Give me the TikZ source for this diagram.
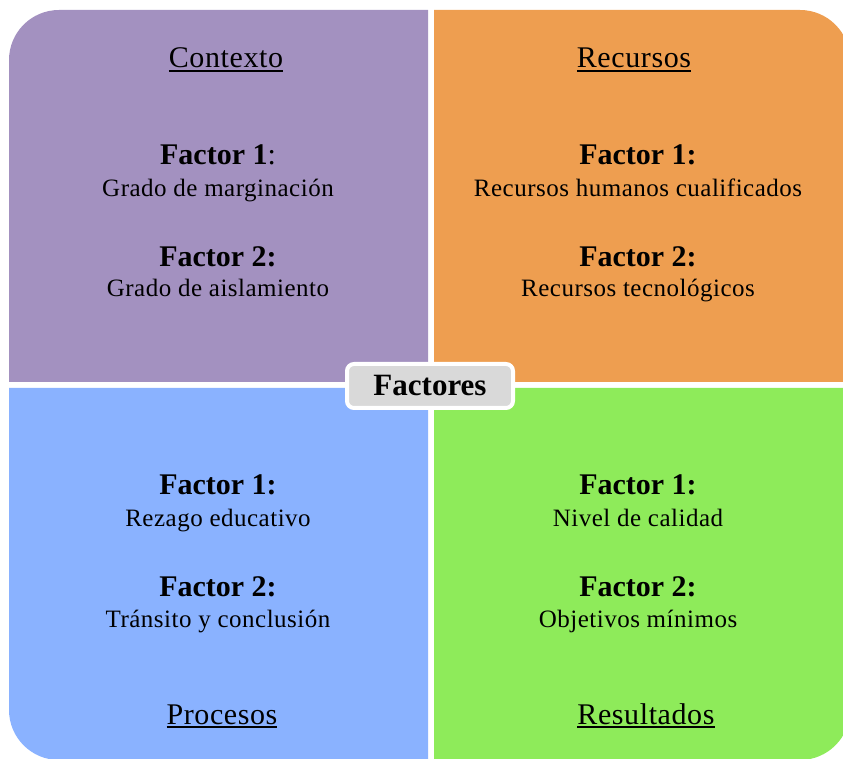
\documentclass[tikz,border=0pt]{standalone}
\usepackage{fontspec}
\setmainfont{Liberation Serif}
\newsavebox\mytitlebox
\newcommand\myul[1]{\sbox\mytitlebox{#1}\rlap{\rule[-4pt]{\wd\mytitlebox}{2pt}}\usebox\mytitlebox}
\definecolor{cpurple}{RGB}{163,145,192}
\definecolor{corange}{RGB}{238,158,80}
\definecolor{cblue}{RGB}{138,178,255}
\definecolor{cgreen}{RGB}{142,235,90}
\definecolor{boxgray}{RGB}{217,217,217}
\tikzset{
  title/.style={anchor=base, inner sep=0pt, font=\fontsize{30}{36}\selectfont\addfontfeature{LetterSpace=2}},
  fhead/.style={anchor=base, inner sep=0pt, font=\fontsize{30}{36}\selectfont},
  fdesc/.style={anchor=base, inner sep=0pt, font=\fontsize{25}{30}\selectfont\addfontfeature{LetterSpace=2}},
  centerbox/.style={draw=white, line width=4pt, fill=boxgray, rounded corners=7pt,
    minimum width=166pt, minimum height=44pt, inner sep=0pt, font=\fontsize{31}{36}\selectfont\bfseries}
}
\begin{document}
\begin{tikzpicture}[x=1pt,y=1pt]
\useasboundingbox (0,0) rectangle (843,758);
\clip (0,0) rectangle (843,758);
% quadrants
\fill[cpurple] (428,376) -- (9,376) -- (9,698) arc[start angle=180,end angle=90,radius=50pt] -- (428,748) -- cycle;
\fill[corange] (434,376) -- (434,748) -- (800,748) arc[start angle=90,end angle=0,radius=50pt] -- (850,376) -- cycle;
\fill[cblue] (428,370) -- (9,370) -- (9,48) arc[start angle=180,end angle=270,radius=50pt] -- (428,-2) -- cycle;
\fill[cgreen] (434,370) -- (850,370) -- (850,48) arc[start angle=0,end angle=-90,radius=50pt] -- (434,-2) -- cycle;
% centre
\node[centerbox] (fac) at (430,372) {Factores};
% Contexto
\node[title] (tctx) at (226,690) {\myul{Contexto}};
\node[fhead] (ctxf1) at (218,593) {\textbf{Factor 1}:};
\node[fdesc] (ctxd1) at (218,561) {Grado de marginación};
\node[fhead] (ctxf2) at (218,491) {\textbf{Factor 2:}};
\node[fdesc] (ctxd2) at (218,461) {Grado de aislamiento};
% Recursos
\node[title] (trec) at (634,690) {\myul{Recursos}};
\node[fhead] (recf1) at (638,593) {\textbf{Factor 1:}};
\node[fdesc] (recd1) at (638,561) {Recursos humanos cualificados};
\node[fhead] (recf2) at (638,491) {\textbf{Factor 2:}};
\node[fdesc] (recd2) at (638,461) {Recursos tecnológicos};
% Procesos
\node[fhead] (prof1) at (218,263) {\textbf{Factor 1:}};
\node[fdesc] (prod1) at (218,231) {Rezago educativo};
\node[fhead] (prof2) at (218,161) {\textbf{Factor 2:}};
\node[fdesc] (prod2) at (218,131) {Tránsito y conclusión};
\node[title] (tpro) at (222,34) {\myul{Procesos}};
% Resultados
\node[fhead] (resf1) at (638,263) {\textbf{Factor 1:}};
\node[fdesc] (resd1) at (638,231) {Nivel de calidad};
\node[fhead] (resf2) at (638,161) {\textbf{Factor 2:}};
\node[fdesc] (resd2) at (638,131) {Objetivos mínimos};
\node[title] (tres) at (646,34) {\myul{Resultados}};
\end{tikzpicture}
\end{document}
